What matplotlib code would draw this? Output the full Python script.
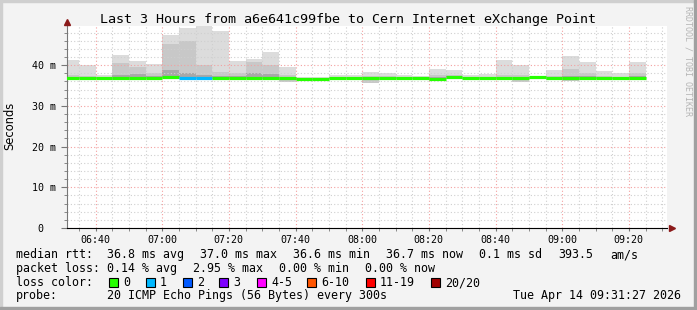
import numpy as np
import matplotlib
matplotlib.use("Agg")
import matplotlib.pyplot as plt
from matplotlib.patches import Rectangle

# 5-minute bins, left edge in minutes after 06:00
bin_start = [30 + 5 * i for i in range(35)]
median = [36.8, 36.8, 36.9, 36.9, 36.8, 36.9, 37.2, 36.8, 36.8, 36.9,
          36.9, 36.9, 36.9, 36.8, 36.6, 36.7, 36.8, 36.8, 36.8, 36.8,
          36.8, 36.8, 36.7, 37.0, 36.9, 36.8, 36.8, 36.8, 37.0, 36.8,
          36.8, 36.9, 36.9, 36.9, 36.8]
smoke_top = [41.2, 40.0, 37.5, 42.5, 41.0, 40.2, 47.4, 49.2, 49.6, 48.3,
             41.0, 41.6, 43.3, 39.6, 37.0, 37.1, 37.5, 37.5, 38.4, 38.1,
             37.5, 37.3, 39.0, 38.8, 37.5, 37.9, 41.2, 40.0, 37.3, 38.9,
             42.2, 40.7, 38.5, 38.0, 40.7]
smoke_mid = [37.5, 37.3, 37.2, 40.4, 39.6, 38.1, 45.2, 46.0, 40.0, 38.4,
             38.1, 40.8, 40.0, 37.5, 36.9, 36.9, 37.1, 37.1, 37.4, 37.3,
             37.1, 37.0, 37.6, 37.5, 37.2, 37.2, 37.5, 37.6, 37.1, 37.4,
             39.0, 38.1, 37.3, 37.2, 38.1]
smoke_core = [37.2, 37.1, 37.1, 37.5, 37.8, 37.3, 38.8, 38.0, 37.6, 37.4,
              37.3, 38.0, 37.9, 37.1, 36.8, 36.8, 37.0, 37.0, 37.1, 37.0,
              37.0, 36.9, 37.1, 37.3, 37.1, 37.0, 37.2, 37.2, 37.1, 37.2,
              37.4, 37.3, 37.1, 37.1, 37.4]
smoke_low = [36.5, 36.5, 36.6, 36.4, 36.3, 36.6, 36.8, 36.5, 36.5, 36.6,
             36.6, 36.5, 36.5, 35.9, 36.3, 36.4, 36.5, 36.6, 35.7, 36.4,
             36.6, 36.6, 36.2, 36.6, 36.6, 36.5, 36.5, 35.9, 36.7, 36.4,
             36.2, 36.3, 36.6, 36.6, 36.4]
lost = [0, 0, 0, 0, 0, 0, 0, 1, 1, 0,
        0, 0, 0, 0, 0, 0, 0, 0, 0, 0,
        0, 0, 0, 0, 0, 0, 0, 0, 0, 0,
        0, 0, 0, 0, 0]

loss_labels = ["0", "1", "2", "3", "4-5", "6-10", "11-19", "20/20"]
loss_colors = ["#26ff00", "#00b8ff", "#0059ff", "#7e00ff", "#ff00ff",
               "#ff5500", "#ff0000", "#a10000"]

tick_pos = [40, 60, 80, 100, 120, 140, 160, 180, 200]
tick_labels = ["06:40", "07:00", "07:20", "07:40", "08:00",
               "08:20", "08:40", "09:00", "09:20"]

W, H = 697, 310
fig = plt.figure(figsize=(W / 100, H / 100), dpi=100, facecolor="#f3f3f3")


def px(x, y):
    return x / W, 1 - y / H


# frame around the picture
fig.patches.append(Rectangle((0, 1 - 2 / H), 1, 2 / H, transform=fig.transFigure, color="#cfcfcf"))
fig.patches.append(Rectangle((0, 0), 2 / W, 1, transform=fig.transFigure, color="#cfcfcf"))
fig.patches.append(Rectangle((1 - 3 / W, 0), 3 / W, 1, transform=fig.transFigure, color="#a0a0a0"))
fig.patches.append(Rectangle((0, 0), 1, 3 / H, transform=fig.transFigure, color="#a0a0a0"))

ax = fig.add_axes([67 / W, (H - 228) / H, 600 / W, 202 / H])
ax.set_facecolor("white")
ax.set_xlim(31.45, 211.45)
ax.set_ylim(0, 49.6)

edges = bin_start + [bin_start[-1] + 5]


def ext(v):
    return list(v) + [v[-1]]


ax.fill_between(edges, ext(smoke_low), ext(smoke_top), step="post", color="#dcdcdc", lw=0, zorder=1)
ax.fill_between(edges, ext(smoke_low), ext(smoke_mid), step="post", color="#c8c8c8", lw=0, zorder=1)
ax.fill_between(edges, ext(np.array(median) - 0.3), ext(smoke_core), step="post", color="#a8a8a8", lw=0, zorder=1)

# grid
for v in np.arange(0, 49.6, 2):
    major = v % 10 == 0
    ax.axhline(v, color="#f4a0a0" if major else "#cfcfcf", lw=0.8,
               ls=(0, (1, 2)), zorder=2)
for t in np.arange(35, 211, 5):
    major = (t - 40) % 20 == 0
    ax.axvline(t, color="#f4a0a0" if major else "#cfcfcf", lw=0.8,
               ls=(0, (1, 2)), zorder=2)


def loss_color(n):
    if n <= 3:
        return loss_colors[n]
    if n <= 5:
        return loss_colors[4]
    if n <= 10:
        return loss_colors[5]
    if n <= 19:
        return loss_colors[6]
    return loss_colors[7]


for t, m, n in zip(bin_start, median, lost):
    ax.hlines(m, t, t + 5, colors=loss_color(n), lw=2.3, zorder=3)

for s in ["top", "right"]:
    ax.spines[s].set_visible(False)
ax.spines["bottom"].set_color("black")
ax.spines["left"].set_color("#777777")
ax.spines["bottom"].set_zorder(4)

mono = "DejaVu Sans Mono"
ax.set_xticks(tick_pos)
ax.set_xticklabels(tick_labels, family=mono, fontsize=7.2)
ax.set_xticks(np.arange(35, 211, 5), minor=True)
ax.set_yticks([0, 10, 20, 30, 40])
ax.set_yticklabels(["0  ", "10 m", "20 m", "30 m", "40 m"], family=mono, fontsize=7.2)
ax.set_yticks(np.arange(0, 49, 2), minor=True)
ax.tick_params(axis="x", which="both", length=2, pad=3, color="#777777")
ax.tick_params(axis="y", which="major", length=4, pad=4, color="#777777")
ax.tick_params(axis="y", which="minor", length=2, color="#777777")

# axis arrows
ax.plot([1.008], [0], marker=">", ms=5, color="#8b1a1a", transform=ax.transAxes, clip_on=False, zorder=5)
ax.plot([0], [1.02], marker="^", ms=5, color="#8b1a1a", transform=ax.transAxes, clip_on=False, zorder=5)

fig.text(*px(348, 19), "Last 3 Hours from a6e641c99fbe to Cern Internet eXchange Point",
         family=mono, fontsize=9.6, ha="center", va="center")
fig.text(*px(10, 126), "Seconds", family="DejaVu Sans", fontsize=8.3,
         rotation=90, ha="center", va="center")
fig.text(*px(688, 6), "RRDTOOL / TOBI OETIKER", family=mono, fontsize=6,
         rotation=270, ha="center", va="top", color="#b5b5b5")

fs = 8.4
row1 = [(16, "median rtt:"), (107, "36.8 ms avg"), (200, "37.0 ms max"), (293, "36.6 ms min"),
        (386, "36.7 ms now"), (479, "0.1 ms sd"), (558, "393.5"), (610, "am/s")]
row2 = [(16, "packet loss:"), (107, "0.14 % avg"), (193, "2.95 % max"), (279, "0.00 % min"),
        (365, "0.00 % now")]
row4 = [(16, "probe:"), (107, "20 ICMP Echo Pings (56 Bytes) every 300s"),
        (513, "Tue Apr 14 09:31:27 2026")]
for y, row in [(254.5, row1), (268.5, row2), (296, row4)]:
    for x, s in row:
        fig.text(*px(x, y), s, family=mono, fontsize=fs, ha="left", va="center")

fig.text(*px(16, 282.5), "loss color:", family=mono, fontsize=fs, ha="left", va="center")
sq_x = [108.5, 145.5, 182.5, 219, 256.5, 307, 365.5, 430.5]
for x, lab, c in zip(sq_x, loss_labels, loss_colors):
    fig.patches.append(Rectangle(px(x, 287), 9 / W, 9 / H, transform=fig.transFigure,
                                 facecolor=c, edgecolor="black", lw=0.8))
    fig.text(*px(x + 14.5, 282.5), lab, family=mono, fontsize=fs, ha="left", va="center")

fig.savefig("out.png", dpi=100, facecolor=fig.get_facecolor())
